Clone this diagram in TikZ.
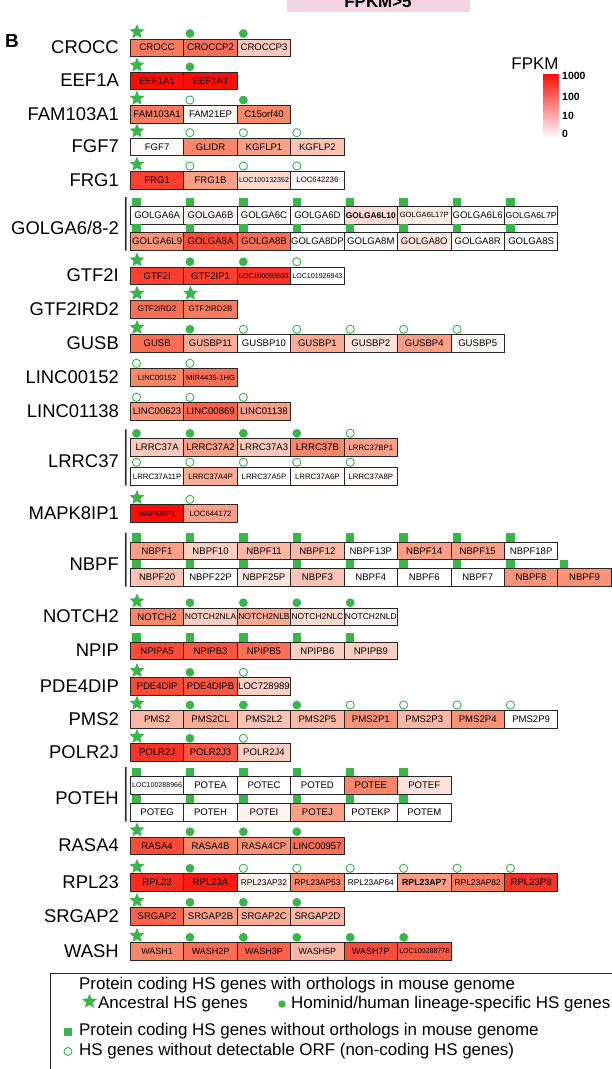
\documentclass[tikz,border=0pt]{standalone}
\usepackage{fontspec}
\setmainfont{Liberation Sans}
\usetikzlibrary{shapes.geometric,calc}
\definecolor{deep}{RGB}{250,15,8}
\definecolor{sal}{RGB}{248,135,105}
\definecolor{hsg}{RGB}{57,181,74}
\definecolor{pinkbg}{RGB}{242,212,224}
\newcommand\fsz[1]{\fontsize{#1}{#1}\selectfont}
\tikzset{
 gbox/.style={draw=black!85, line width=0.8bp, minimum width=53.43bp, minimum height=17.5bp, inner sep=0pt, anchor=north west, font=\fsz{9.6}},
 fs96/.style={}, fs90/.style={font=\fsz{9.0}}, fs87/.style={font=\fsz{8.7}}, fs85/.style={font=\fsz{8.5}},
 fs84/.style={font=\fsz{8.4}}, fs80/.style={font=\fsz{8.0}}, fs78/.style={font=\fsz{7.8}},
 fs76/.style={font=\fsz{7.6}}, fs75/.style={font=\fsz{7.5}}, fs71/.style={font=\fsz{7.1}},
 bd84/.style={font=\bfseries\fsz{8.4}}, bd88/.style={font=\bfseries\fsz{8.8}},
 mks/.style={star, star points=5, star point ratio=2.2, minimum size=15.5bp, inner sep=0pt, fill=hsg, yshift=1.6bp, xshift=0.5bp},
 mkd/.style={circle, minimum size=8.8bp, inner sep=0pt, fill=hsg},
 mko/.style={circle, minimum size=8.2bp, inner sep=0pt, draw=hsg, line width=0.9bp, fill=white},
 mkq/.style={rectangle, minimum width=8.4bp, minimum height=8.4bp, inner sep=0pt, fill=hsg, yshift=-0.7bp},
 glab/.style={anchor=east, font=\fsz{18.5}, inner sep=0pt},
 gbar/.style={line width=1.8bp, draw=black!80},
 lgtext/.style={anchor=west, font=\fsz{17}, inner sep=0pt},
 ticklab/.style={anchor=west, font=\bfseries\fsz{10.5}, inner sep=0pt},
}
\newcommand\generow[3]{%
  \foreach \t/\c/\m/\f [count=\i from 0] in {#3} {
    \pgfmathtruncatemacro\ca{min(100,2*\c)}
    \pgfmathtruncatemacro\cb{max(0,2*\c-100)}
    \colorlet{tmpc}{sal!\ca!white}
    \node[gbox, \f, fill=deep!\cb!tmpc] (#1\i) at ({130+53.43*\i}, #2) {\t};
    \node[\m] (#1\i m) at ($(#1\i.north west)+(6.5,-5)$) {};
  }}
\begin{document}
\begin{tikzpicture}[x=1bp, y=-1bp]
\useasboundingbox (0,0) rectangle (612,1069);
\begin{scope}
\clip (0,0) rectangle (612,1069);
\fill[white] (0,0) rectangle (612,1069);
% title strip
\node[fill=pinkbg, minimum width=183bp, minimum height=30bp, anchor=south west, inner sep=0pt] (title) at (287,12) {};
\node[font=\bfseries\fsz{17}, anchor=base, inner sep=0pt] (titletext) at (378,7) {FPKM>5};
\node[font=\bfseries\fsz{19}, anchor=west, inner sep=0pt] (B) at (5,41) {B};

% FPKM colour key
\node[font=\fsz{17}, inner sep=0pt] (fpkm) at (535,64) {FPKM};
\node[anchor=north west, minimum width=16bp, minimum height=64bp, inner sep=0pt, top color=deep, middle color=sal, bottom color=white] (grad) at (543,74) {};
\node[ticklab] (t1000) at (562,76) {1000};
\node[ticklab] (t100) at (562,97) {100};
\node[ticklab] (t10) at (562,116) {10};
\node[ticklab] (t0) at (562,134) {0};

% gene rows
\generow{crocc}{38.5}{CROCC/55/mks/fs96, CROCCP2/60/mkd/fs96, CROCCP3/22/mkd/fs96}
\generow{eef}{71.8}{EEF1A1/100/mks/fs96, EEF1A2/100/mkd/fs96}
\generow{fam}{105}{FAM103A1/55/mks/fs96, FAM21EP/3/mko/fs96, C15orf40/50/mkd/fs96}
\generow{fgf}{137.7}{FGF7/2/mks/fs96, GLIDR/50/mko/fs96, KGFLP1/40/mko/fs96, KGFLP2/25/mko/fs96}
\generow{frg}{171}{FRG1/80/mks/fs96, FRG1B/40/mko/fs96, LOC100132352/15/mko/fs71, LOC642236/3/mko/fs78}
\generow{golga}{206}{GOLGA6A/0/mkq/fs96, GOLGA6B/4/mkq/fs96, GOLGA6C/3/mkq/fs96, GOLGA6D/0/mkq/fs96, GOLGA6L10/15/mkq/bd84, GOLGA6L17P/8/mkq/fs76, GOLGA6L6/0/mkq/fs96, GOLGA6L7P/0/mkq/fs87}
\generow{golgb}{232.3}{GOLGA6L9/45/mkq/fs96, GOLGA8A/75/mkq/fs96, GOLGA8B/60/mkq/fs96, GOLGA8DP/0/mkq/fs96, GOLGA8M/0/mkq/fs96, GOLGA8O/10/mkq/fs96, GOLGA8R/0/mkq/fs96, GOLGA8S/0/mkq/fs96}
\generow{gtf}{266.7}{GTF2I/80/mks/fs96, GTF2IP1/80/mkd/fs96, LOC100093631/85/mkd/fs71, LOC101926943/0/mko/fs71}
\generow{gtfird}{300}{GTF2IRD2/60/mks/fs80, GTF2IRD2B/55/mks/fs80}
\generow{gusb}{334.3}{GUSB/60/mks/fs96, GUSBP11/35/mkd/fs96, GUSBP10/0/mko/fs96, GUSBP1/35/mko/fs96, GUSBP2/12/mko/fs96, GUSBP4/40/mko/fs96, GUSBP5/3/mko/fs96}
\generow{linca}{368.3}{LINC00152/50/mko/fs76, MIR4435-1HG/60/mko/fs76}
\generow{lincb}{402.3}{LINC00623/45/mko/fs96, LINC00869/65/mko/fs96, LINC01138/40/mko/fs96}
\generow{lrra}{438.3}{LRRC37A/22/mkd/fs96, LRRC37A2/40/mkd/fs96, LRRC37A3/22/mkd/fs96, LRRC37B/50/mkd/fs96, LRRC37BP1/40/mko/fs78}
\generow{lrrb}{467.3}{LRRC37A11P/0/mko/fs78, LRRC37A4P/35/mko/fs78, LRRC37A5P/0/mko/fs78, LRRC37A6P/3/mko/fs78, LRRC37A8P/3/mko/fs78}
\generow{mapk}{504.3}{MAPK8IP1/100/mks/fs75, LOC644172/40/mko/fs78}
\generow{nbpa}{541.7}{NBPF1/40/mkq/fs96, NBPF10/20/mkq/fs96, NBPF11/30/mkq/fs96, NBPF12/30/mkq/fs96, NBPF13P/0/mkq/fs96, NBPF14/40/mkq/fs96, NBPF15/40/mkq/fs96, NBPF18P/0/mkq/fs96}
\generow{nbpb}{568.3}{NBPF20/25/mkq/fs96, NBPF22P/0/mkq/fs96, NBPF25P/10/mkq/fs96, NBPF3/25/mkq/fs96, NBPF4/0/mkq/fs96, NBPF6/0/mkq/fs96, NBPF7/0/mkq/fs96, NBPF8/45/mkq/fs96, NBPF9/45/mkq/fs96}
\generow{notch}{607.7}{NOTCH2/50/mks/fs96, NOTCH2NLA/20/mkd/fs85, NOTCH2NLB/35/mkd/fs85, NOTCH2NLC/15/mkd/fs85, NOTCH2NLD/5/mkd/fs85}
\generow{npip}{641.7}{NPIPA5/75/mkq/fs96, NPIPB3/70/mkq/fs96, NPIPB5/60/mkq/fs96, NPIPB6/20/mkq/fs96, NPIPB9/20/mkq/fs96}
\generow{pde}{677.3}{PDE4DIP/75/mks/fs96, PDE4DIPB/70/mkd/fs96, LOC728989/20/mko/fs96}
\generow{pms}{710}{PMS2/30/mks/fs96, PMS2CL/35/mkd/fs96, PMS2L2/25/mkd/fs96, PMS2P5/30/mkd/fs96, PMS2P1/45/mko/fs96, PMS2P3/30/mko/fs96, PMS2P4/45/mko/fs96, PMS2P9/0/mko/fs96}
\generow{polr}{743.3}{POLR2J/85/mks/fs96, POLR2J3/70/mkd/fs96, POLR2J4/20/mko/fs96}
\generow{potea}{776}{LOC100288966/0/mkq/fs71, POTEA/0/mkq/fs96, POTEC/0/mkq/fs96, POTED/0/mkq/fs96, POTEE/50/mkq/fs96, POTEF/12/mkq/fs96}
\generow{poteb}{803.3}{POTEG/0/mkq/fs96, POTEH/0/mkq/fs96, POTEI/5/mkq/fs96, POTEJ/40/mkq/fs96, POTEKP/3/mkq/fs96, POTEM/0/mkq/fs96}
\generow{rasa}{836.7}{RASA4/75/mks/fs96, RASA4B/50/mkd/fs96, RASA4CP/45/mkd/fs96, LINC00957/60/mkd/fs96}
\generow{rpl}{873.3}{RPL23/88/mks/fs96, RPL23A/95/mkd/fs96, RPL23AP32/5/mko/fs84, RPL23AP53/50/mko/fs84, RPL23AP64/0/mko/fs84, RPL23AP7/40/mko/bd88, RPL23AP82/55/mko/fs84, RPL23P8/85/mko/fs96}
\generow{srg}{907.3}{SRGAP2/65/mks/fs96, SRGAP2B/40/mkd/fs96, SRGAP2C/35/mkd/fs96, SRGAP2D/30/mkd/fs96}
\generow{wash}{942.3}{WASH1/50/mks/fs90, WASH2P/60/mkd/fs90, WASH3P/65/mkd/fs90, WASH5P/30/mkd/fs90, WASH7P/75/mkd/fs90, LOC100288778/70/mkd/fs71}

% group bars
\draw[gbar] ([shift={(-4.3,-9)}]golga0.north west) -- ([xshift=-4.3bp]golgb0.south west);
\draw[gbar] ([shift={(-4.3,-9)}]lrra0.north west) -- ([xshift=-4.3bp]lrrb0.south west);
\draw[gbar] ([shift={(-4.3,-9)}]nbpa0.north west) -- ([xshift=-4.3bp]nbpb0.south west);
\draw[gbar] ([shift={(-4.3,-9)}]potea0.north west) -- ([xshift=-4.3bp]poteb0.south west);

% family labels
\node[glab] (Lcrocc) at (119,47.25) {CROCC};
\node[glab] (Leef) at (119,80.55) {EEF1A};
\node[glab] (Lfam) at (119,113.75) {FAM103A1};
\node[glab] (Lfgf) at (119,146.45) {FGF7};
\node[glab] (Lfrg) at (119,179.75) {FRG1};
\node[glab] (Lgolga) at (119,227.9) {GOLGA6/8-2};
\node[glab] (Lgtf) at (119,275.45) {GTF2I};
\node[glab] (Lgtfird) at (119,308.75) {GTF2IRD2};
\node[glab] (Lgusb) at (119,343.05) {GUSB};
\node[glab] (Llinca) at (119,377.05) {LINC00152};
\node[glab] (Llincb) at (119,411.05) {LINC01138};
\node[glab] (Llrr) at (119,461.55) {LRRC37};
\node[glab] (Lmapk) at (119,513.05) {MAPK8IP1};
\node[glab] (Lnbp) at (119,563.75) {NBPF};
\node[glab] (Lnotch) at (119,616.45) {NOTCH2};
\node[glab] (Lnpip) at (119,650.45) {NPIP};
\node[glab] (Lpde) at (119,686.05) {PDE4DIP};
\node[glab] (Lpms) at (119,718.75) {PMS2};
\node[glab] (Lpolr) at (119,752.05) {POLR2J};
\node[glab] (Lpote) at (119,798.4) {POTEH};
\node[glab] (Lrasa) at (119,845.45) {RASA4};
\node[glab] (Lrpl) at (119,882.05) {RPL23};
\node[glab] (Lsrg) at (119,916.05) {SRGAP2};
\node[glab] (Lwash) at (119,951.05) {WASH};

% legend
\coordinate (lgTR) at (612,973);
\coordinate (lgBL) at (50.8,1069);
\draw[line width=0.9bp, draw=black!85] (lgTR) -| (lgBL);
\node[lgtext] (lg1) at (79,985) {Protein coding HS genes with orthologs in mouse genome};
\node[mks, yshift=0bp, xshift=0bp] (lgstar) at (89,1003) {};
\node[lgtext] (lg2) at (98,1004) {Ancestral HS genes};
\node[mkd, minimum size=7.5bp] (lgdot) at (282,1004) {};
\node[lgtext] (lg3) at (291,1004) {Hominid/human lineage-specific HS genes};
\node[mkq, yshift=0bp, minimum width=8bp, minimum height=8bp] (lgsq) at (68,1031) {};
\node[lgtext] (lg4) at (79,1031) {Protein coding HS genes without orthologs in mouse genome};
\node[mko, minimum size=8bp] (lgopen) at (68,1051.5) {};
\node[lgtext] (lg5) at (79,1051) {HS genes without detectable ORF (non-coding HS genes)};
\end{scope}
\end{tikzpicture}
\end{document}
